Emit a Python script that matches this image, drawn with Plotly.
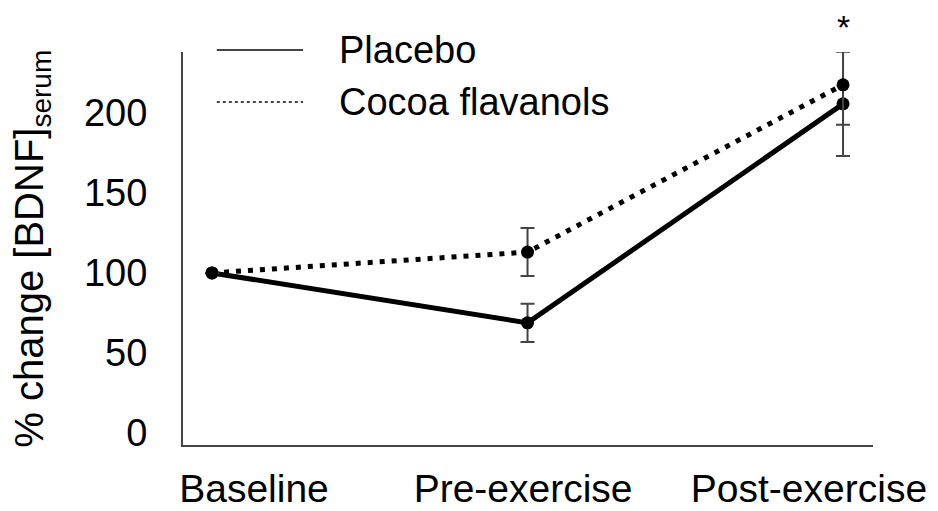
import plotly.graph_objects as go

categories = ["Baseline", "Pre-exercise", "Post-exercise"]
x_pos = [0, 1, 2]
placebo = [100, 68.8, 205.6]
placebo_err = [0, 12, 32.5]
cocoa = [100, 113, 217.5]
cocoa_err = [0, 15, 25]
y_ticks = [0, 50, 100, 150, 200]
series_names = ["Placebo", "Cocoa flavanols"]
sig_x = [2]
sig_y = [259]
sig_text = ["*"]

# label positions (Excel-like offset of category labels)
label_pos = [0.133, 0.986, 1.892]

FONT = "Liberation Sans, Arial, sans-serif"
Y_RANGE = [-7.5, 238]

fig = go.Figure()
fig.add_trace(go.Scatter(
    x=x_pos, y=placebo, mode="lines+markers", name=series_names[0],
    line=dict(color="black", width=5),
    marker=dict(color="black", size=13),
    error_y=dict(type="data", array=placebo_err, color="#444", thickness=2, width=7),
    showlegend=False, cliponaxis=False,
))
fig.add_trace(go.Scatter(
    x=x_pos, y=cocoa, mode="lines+markers", name=series_names[1],
    line=dict(color="black", width=5, dash="5px,7px"),
    marker=dict(color="black", size=13),
    error_y=dict(type="data", array=cocoa_err, color="#444", thickness=2, width=7),
    showlegend=False, cliponaxis=False,
))

# significance marker (above the axis range -> annotation in paper y)
for sx, sy, st in zip(sig_x, sig_y, sig_text):
    fig.add_annotation(xref="x", yref="paper", x=sx,
                       y=(sy - Y_RANGE[0]) / (Y_RANGE[1] - Y_RANGE[0]),
                       text=st, showarrow=False, xanchor="center", yanchor="middle",
                       yshift=-9,
                       font=dict(family=FONT, size=34, color="black"))

# manual legend
leg_y = [1.005, 0.873]
leg_dash = ["solid", "dot"]
for name, yy, d in zip(series_names, leg_y, leg_dash):
    fig.add_shape(type="line", xref="paper", yref="paper", x0=0.049, x1=0.174, y0=yy, y1=yy,
                  line=dict(color="#444", width=2, dash=d))
    fig.add_annotation(xref="paper", yref="paper", x=0.223, y=yy, xanchor="left", yanchor="middle",
                       text=name, showarrow=False, font=dict(family=FONT, size=38, color="black"))

# y title
fig.add_annotation(xref="paper", yref="paper", x=-0.22, y=0.5, xanchor="center", yanchor="middle",
                   textangle=-90, showarrow=False,
                   text="% change [BDNF]<sub>serum</sub>",
                   font=dict(family=FONT, size=40, color="black"))

fig.update_layout(
    width=930, height=503,
    margin=dict(l=175, r=65, t=44, b=66),
    paper_bgcolor="white", plot_bgcolor="white",
    font=dict(family=FONT, color="black"),
    xaxis=dict(range=[-0.092, 2.095], showgrid=False, zeroline=False, automargin=False,
               showline=True, linecolor="#444", linewidth=2,
               tickmode="array", tickvals=label_pos, ticktext=categories,
               ticks="outside", ticklen=8, tickcolor="rgba(0,0,0,0)",
               tickfont=dict(family=FONT, size=39, color="black")),
    yaxis=dict(range=Y_RANGE, showgrid=False, zeroline=False, automargin=False,
               showline=True, linecolor="#444", linewidth=2,
               tickmode="array", tickvals=y_ticks,
               ticks="outside", ticklen=26, tickcolor="rgba(0,0,0,0)",
               tickfont=dict(family=FONT, size=38, color="black")),
)

fig.write_html("out.html")
